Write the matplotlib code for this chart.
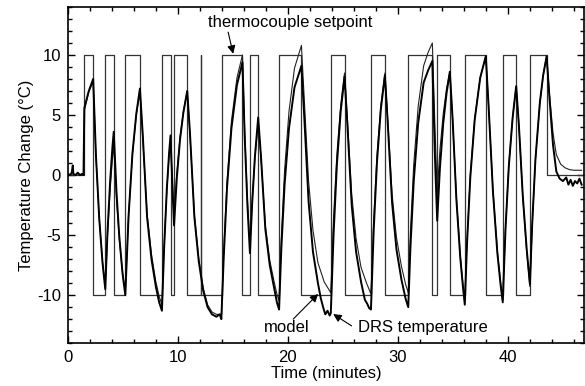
import matplotlib
matplotlib.use('Agg')
import matplotlib.pyplot as plt
from matplotlib.ticker import MultipleLocator

plt.rcParams['font.family'] = ['Liberation Sans', 'DejaVu Sans']
plt.rcParams['font.size'] = 12
plt.rcParams['axes.unicode_minus'] = False

# thermocouple setpoint (step, value holds until next time)
sp_time = [0, 1.45, 2.3, 3.4, 4.17, 5.22, 6.55, 8.55, 9.33, 9.65, 10.85, 12.1, 12.1,
           13.97, 15.87, 16.55, 17.3, 19.2, 21.23, 23.9, 25.15, 27.55, 28.82, 30.94,
           33.13, 33.57, 34.72, 36.08, 37.99, 39.53, 40.75, 42.0, 43.52, 46.9]
sp_temp = [0, 10, -10, 10, -10, 10, -10, 10, -10, 10, -10, 10, -10,
           10, -10, 10, -10, 10, -10, 10, -10, 10, -10, 10,
           -10, 10, -10, 10, -10, 10, -10, 10, 0, 0]

# DRS temperature
drs_time = [0.0, 0.2, 0.35, 0.45, 0.5, 0.7, 0.9, 1.1, 1.3, 1.42,
            1.5, 1.9, 2.3,
            2.55, 2.85, 3.15, 3.4,
            3.6, 3.85, 4.05, 4.17,
            4.42, 4.67, 4.97, 5.22,
            5.52, 5.87, 6.22, 6.55,
            6.8, 7.2, 7.6, 8.0, 8.3, 8.55,
            8.75, 9.0, 9.2, 9.33,
            9.49, 9.65,
            9.9, 10.2, 10.5, 10.85,
            11.1, 11.5, 11.9, 12.3, 12.7, 13.1, 13.5, 13.8, 13.95,
            14.17, 14.47, 14.87, 15.37, 15.87,
            16.07, 16.32, 16.55,
            16.75, 17.0, 17.3,
            17.55, 17.95, 18.35, 18.75, 19.0, 19.2,
            19.4, 19.7, 20.1, 20.6, 21.23,
            21.48, 21.88, 22.28, 22.73, 23.0, 23.2, 23.4, 23.6, 23.8, 23.9,
            24.15, 24.45, 24.8, 25.15,
            25.4, 25.8, 26.2, 26.65, 27.0, 27.2, 27.4, 27.55,
            27.8, 28.1, 28.45, 28.82,
            29.07, 29.47, 29.87, 30.32, 30.7, 30.94,
            31.14, 31.44, 31.84, 32.34, 32.74, 33.13,
            33.35, 33.57,
            33.82, 34.12, 34.42, 34.72,
            34.97, 35.32, 35.67, 35.92, 36.08,
            36.28, 36.58, 36.98, 37.48, 37.99,
            38.24, 38.64, 39.04, 39.34, 39.53,
            39.78, 40.08, 40.43, 40.75,
            41.0, 41.35, 41.7, 42.0,
            42.2, 42.5, 42.9, 43.2, 43.52,
            43.77, 44.1, 44.4, 44.7, 45.0, 45.3, 45.5, 45.7, 45.9, 46.1, 46.3, 46.5, 46.7]
drs_temp = [0.1, 0.0, 0.2, 0.8, 0.1, 0.0, 0.2, 0.0, 0.1, 0.0,
            5.6, 7.0, 8.0,
            1.7, -3.6, -7.3, -9.5,
            -4.8, -0.4, 2.3, 3.6,
            -1.4, -5.05, -8.2, -10.0,
            -3.4, 1.8, 5.1, 7.2,
            3.5, -3.5, -7.0, -9.3, -10.6, -11.3,
            -6.1, -1.1, 1.8, 3.3,
            -0.6, -4.2,
            -0.3, 3.0, 5.2, 7.0,
            3.5, -3.5, -7.2, -9.6, -11.0, -11.6, -11.8, -11.6, -12.0,
            -6.8, -1.0, 3.9, 7.5, 9.4,
            3.3, -2.5, -6.5,
            -2.4, 1.5, 4.8,
            1.6, -4.5, -7.5, -9.4, -10.6, -11.2,
            -6.2, -0.8, 3.9, 7.3, 9.1,
            5.0, -2.2, -6.4, -9.0, -10.3, -11.0, -11.6, -11.3, -11.7, -11.5,
            -5.0, 0.8, 5.3, 8.2,
            4.3, -2.5, -6.4, -8.9, -10.4, -10.7, -11.1, -11.2,
            -4.6, 1.1, 5.5, 8.3,
            4.4, -2.3, -6.2, -8.7, -10.3, -11.0,
            -6.0, -0.5, 4.3, 7.7, 8.7, 9.5,
            2.0, -3.8,
            0.6, 4.3, 6.8, 8.6,
            4.7, -2.1, -6.9, -9.4, -10.8,
            -5.75, -0.2, 4.6, 8.1, 9.9,
            5.8, -1.4, -6.5, -9.2, -10.6,
            -4.5, 0.7, 4.8, 7.4,
            4.1, -1.7, -6.1, -9.1,
            -4.2, 1.3, 6.0, 8.3, 9.9,
            6.5, 2.5, 0.3, -0.3, -0.5, -0.2, -0.8, -0.4, -0.9, -0.5, -0.7, -0.3, -0.8]

# model
model_time = [0.0, 1.45, 1.5, 1.9, 2.3,
              2.55, 2.85, 3.15, 3.4,
              3.6, 3.85, 4.05, 4.17,
              4.42, 4.67, 4.97, 5.22,
              5.52, 5.87, 6.22, 6.55,
              6.8, 7.2, 7.6, 8.0, 8.3, 8.55,
              8.75, 9.0, 9.2, 9.33,
              9.49, 9.65,
              9.9, 10.2, 10.5, 10.85,
              11.1, 11.5, 11.9, 12.3, 12.7, 13.1, 13.5, 13.97,
              14.17, 14.47, 14.87, 15.37, 15.87,
              16.07, 16.32, 16.55,
              16.75, 17.0, 17.3,
              17.55, 17.95, 18.35, 18.75, 19.0, 19.2,
              19.4, 19.7, 20.1, 20.6, 21.23,
              21.48, 21.88, 22.28, 22.73, 23.3, 23.9,
              24.15, 24.45, 24.8, 25.15,
              25.4, 25.8, 26.2, 26.65, 27.15, 27.55,
              27.8, 28.1, 28.45, 28.82,
              29.07, 29.47, 29.87, 30.32, 30.7, 30.94,
              31.14, 31.44, 31.84, 32.34, 32.74, 33.13,
              33.35, 33.57,
              33.82, 34.12, 34.42, 34.72,
              34.97, 35.32, 35.67, 35.92, 36.08,
              36.28, 36.58, 36.98, 37.48, 37.99,
              38.24, 38.64, 39.04, 39.34, 39.53,
              39.78, 40.08, 40.43, 40.75,
              41.0, 41.35, 41.7, 42.0,
              42.2, 42.5, 42.9, 43.2, 43.52,
              43.77, 44.1, 44.4, 44.8, 45.2, 45.6, 46.0, 46.7]
model_temp = [0.0, 0.0, 5.4, 6.9, 7.8,
              1.6, -3.6, -7.2, -9.3,
              -5.1, -1.1, 1.3, 2.5,
              -2.0, -5.3, -8.1, -9.8,
              -3.3, 1.7, 5.0, 7.0,
              3.2, -3.2, -6.6, -8.9, -10.1, -10.8,
              -5.9, -1.2, 1.6, 3.0,
              -0.4, -3.5,
              0.1, 3.2, 5.3, 7.0,
              3.3, -3.3, -7.0, -9.4, -10.8, -11.4, -11.6, -11.6,
              -6.3, -0.5, 4.5, 8.1, 10.0,
              3.8, -2.0, -6.0,
              -2.2, 1.4, 4.5,
              1.5, -4.2, -7.1, -8.9, -9.9, -10.5,
              -5.3, 0.4, 5.3, 8.9, 10.8,
              6.5, -0.5, -4.6, -7.3, -8.9, -9.8,
              -3.6, 1.7, 5.8, 8.5,
              4.8, -1.6, -5.3, -7.7, -9.0, -9.9,
              -3.7, 1.7, 5.8, 8.5,
              4.8, -1.6, -5.2, -7.6, -9.1, -9.8,
              -4.7, 0.9, 5.7, 9.1, 10.2, 11.0,
              4.5, -1.5,
              2.1, 5.1, 7.2, 8.6,
              4.7, -1.9, -6.7, -9.2, -10.5,
              -5.5, 0.0, 4.7, 8.1, 9.9,
              5.8, -1.3, -6.3, -9.0, -10.4,
              -4.4, 0.8, 4.8, 7.4,
              4.1, -1.8, -6.3, -9.3,
              -4.3, 1.2, 6.0, 8.25, 9.9,
              6.8, 3.5, 1.7, 0.9, 0.6, 0.45, 0.4, 0.4]

fig = plt.figure(figsize=(5.85, 3.86), dpi=100)
ax = fig.add_axes([0.116, 0.111, 0.882, 0.871])

ax.step(sp_time, sp_temp, where='post', color='#333333', lw=0.9)
ax.plot(model_time, model_temp, color='#222222', lw=0.8)
ax.plot(drs_time, drs_temp, color='black', lw=1.4)

ax.set_xlim(0, 46.9)
ax.set_ylim(-14, 14)
ax.xaxis.set_major_locator(MultipleLocator(10))
ax.xaxis.set_minor_locator(MultipleLocator(2))
ax.yaxis.set_major_locator(MultipleLocator(5))
ax.yaxis.set_minor_locator(MultipleLocator(1))
ax.tick_params(which='both', direction='in', top=True, right=True, width=1)
ax.tick_params(which='major', length=5, pad=5)
ax.tick_params(which='minor', length=3)
for s in ax.spines.values():
    s.set_linewidth(1.2)

ax.set_xlabel('Time (minutes)', labelpad=1)
ax.set_ylabel('Temperature Change (°C)', labelpad=2)

arrow = dict(arrowstyle='-|>', color='black', lw=0.8, mutation_scale=12, shrinkA=0, shrinkB=0)
ax.text(12.75, 12.7, 'thermocouple setpoint', ha='left', va='center')
ax.annotate('', xy=(15.03, 10.1), xytext=(14.57, 11.9), arrowprops=arrow)
ax.text(17.8, -12.7, 'model', ha='left', va='center')
ax.annotate('', xy=(22.75, -9.9), xytext=(20.48, -12.0), arrowprops=arrow)
ax.text(26.4, -12.7, 'DRS temperature', ha='left', va='center')
ax.annotate('', xy=(24.12, -11.58), xytext=(25.79, -12.56), arrowprops=arrow)

plt.savefig('out.png', dpi=100)
